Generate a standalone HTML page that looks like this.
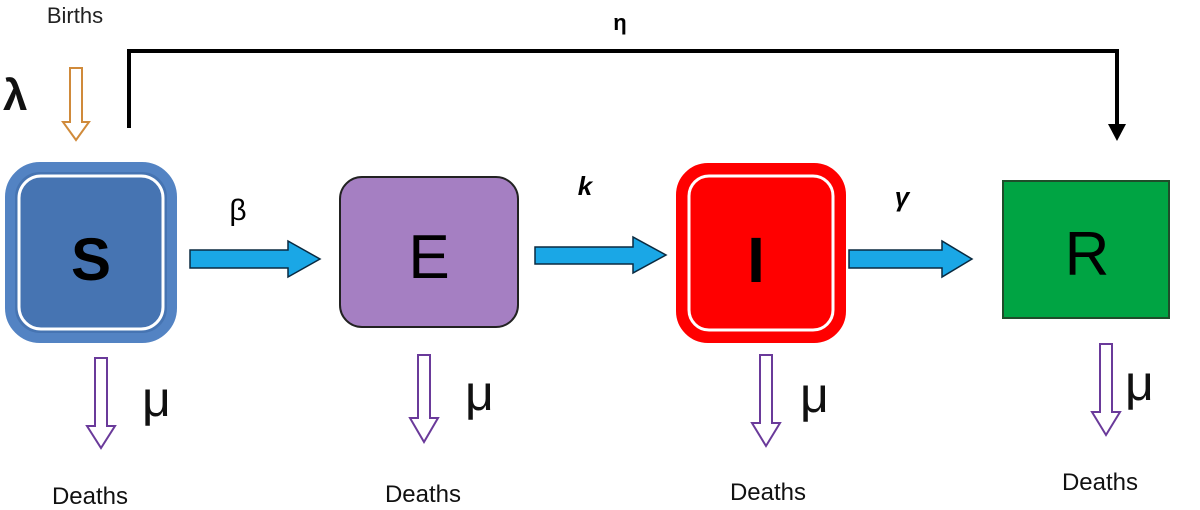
<!DOCTYPE html>
<html><head><style>
body{margin:0;background:#fff;width:1200px;height:510px;overflow:hidden}
svg{display:block}
text{font-family:"Liberation Sans","DejaVu Sans",sans-serif}
</style></head><body>
<svg width="1200" height="510" viewBox="0 0 1200 510">
<polyline points="129,128 129,51 1117,51 1117,126" fill="none" stroke="#000" stroke-width="4"/>
<polygon points="1108,124 1126,124 1117,141" fill="#000"/>
<text x="620" y="30" font-size="22" font-weight="bold" text-anchor="middle">η</text>
<text x="75" y="23" font-size="22" text-anchor="middle" fill="#222">Births</text>
<text x="3" y="110" font-size="44" font-weight="bold" fill="#111">λ</text>
<polygon points="70,68 82,68 82,122 89,122 76,140 63,122 70,122" fill="#fff" stroke="#d08a3a" stroke-width="2"/>
<rect x="10" y="167" width="162" height="171" rx="30" fill="#4674b2" stroke="#5383c3" stroke-width="10"/>
<rect x="19" y="176" width="144" height="153" rx="22" fill="none" stroke="#fff" stroke-width="3"/>
<text x="91" y="280" font-size="60" font-weight="bold" text-anchor="middle">S</text>
<rect x="340" y="177" width="178" height="150" rx="22" fill="#a57fc2" stroke="#222" stroke-width="2"/>
<text x="429" y="278" font-size="62" text-anchor="middle">E</text>
<rect x="680" y="167" width="162" height="172" rx="28" fill="#f00" stroke="#f00" stroke-width="8"/>
<rect x="689" y="176" width="144" height="154" rx="20" fill="none" stroke="#fff" stroke-width="3"/>
<text x="756" y="282" font-size="64" font-weight="bold" text-anchor="middle">I</text>
<rect x="1003" y="181" width="166" height="137" fill="#00a443" stroke="#1f4d2a" stroke-width="2"/>
<text x="1087" y="275" font-size="62" text-anchor="middle">R</text>
<g fill="#1aa7e6" stroke="#0a2a40" stroke-width="1.5">
<polygon points="190,250 288,250 288,241 320,259 288,277 288,268 190,268"/>
<polygon points="535,247 633,247 633,237 666,255 633,273 633,264 535,264"/>
<polygon points="849,250 942,250 942,241 972,259 942,277 942,268 849,268"/>
</g>
<text x="238" y="220" font-size="30" text-anchor="middle">β</text>
<text x="585" y="195" font-size="26" font-family="Liberation Serif" font-weight="bold" font-style="italic" text-anchor="middle">k</text>
<text x="902" y="206" font-size="26" font-family="Liberation Serif" font-style="italic" font-weight="bold" text-anchor="middle">γ</text>
<g fill="#fff" stroke="#6a3a9a" stroke-width="2">
<polygon points="95,358 107,358 107,426 115,426 101,448 87,426 95,426"/>
<polygon points="418,355 430,355 430,418 438,418 424,442 410,418 418,418"/>
<polygon points="760,355 772,355 772,423 780,423 766,446 752,423 760,423"/>
<polygon points="1100,344 1112,344 1112,412 1120,412 1106,435 1092,412 1100,412"/>
</g>
<g font-family="Liberation Serif" font-size="50" fill="#111">
<text x="142" y="416">μ</text>
<text x="465" y="410">μ</text>
<text x="800" y="412">μ</text>
<text x="1125" y="400">μ</text>
</g>
<g font-size="24" fill="#111" text-anchor="middle">
<text x="90" y="504">Deaths</text>
<text x="423" y="502">Deaths</text>
<text x="768" y="500">Deaths</text>
<text x="1100" y="490">Deaths</text>
</g>
</svg>
</body></html>
